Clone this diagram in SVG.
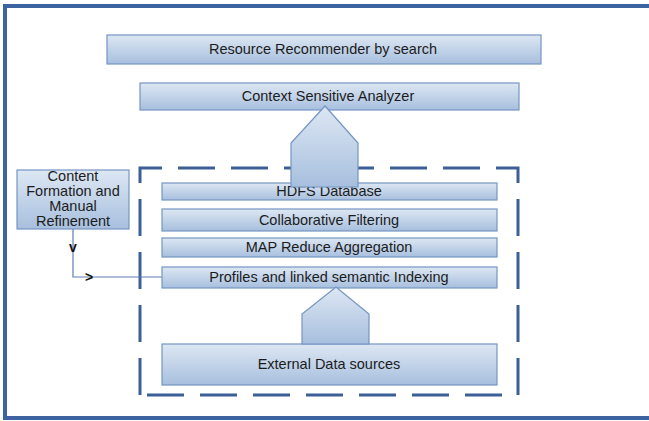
<svg xmlns="http://www.w3.org/2000/svg" width="649" height="421" viewBox="0 0 649 421">
<defs>
<linearGradient id="g" x1="0" y1="0" x2="0" y2="1">
<stop offset="0" stop-color="#DDE7F3"/>
<stop offset="1" stop-color="#A7BFDE"/>
</linearGradient>
<style>
.box{fill:url(#g);stroke:#7594C4;stroke-width:1.2}
.t{font-family:"Liberation Sans",Arial,sans-serif;font-size:14.5px;fill:#1c1c1c;text-anchor:middle}
.frame{fill:none;stroke:#3D63A0;stroke-width:4}
.dash{fill:none;stroke:#3B5F96;stroke-width:3;stroke-dasharray:37 16}
.con{fill:none;stroke:#5F7FB2;stroke-width:1.2}
.ah{font-family:"Liberation Sans",Arial,sans-serif;font-size:14px;font-weight:bold;fill:#111;text-anchor:middle}
</style>
</defs>
<path class="frame" d="M655 6 H5 V418 H655"/>
<path class="dash" d="M140 395 V168 H518 V395 Z"/>
<g id="connectors">
<path class="con" d="M73 229 V277 H162"/>
<text class="ah" x="73" y="252">v</text>
<text class="ah" x="89" y="282">&gt;</text>
</g>
<g id="resource"><rect class="box" x="107" y="35" width="434" height="29"/><text class="t" x="323" y="54">Resource Recommender by search</text></g>
<g id="context"><rect class="box" x="140" y="83" width="379" height="27"/><text class="t" x="328" y="101">Context Sensitive Analyzer</text></g>
<g id="hdfs"><rect class="box" x="162" y="183" width="335" height="17"/><text class="t" x="329" y="196">HDFS Database</text></g>
<g id="collab"><rect class="box" x="162" y="209" width="335" height="22"/><text class="t" x="329" y="225">Collaborative Filtering</text></g>
<g id="mapreduce"><rect class="box" x="162" y="238" width="335" height="19"/><text class="t" x="329" y="252">MAP Reduce Aggregation</text></g>
<g id="profiles"><rect class="box" x="162" y="267" width="335" height="21"/><text class="t" x="329" y="282">Profiles and linked semantic Indexing</text></g>
<g id="external"><rect class="box" x="162" y="344" width="335" height="41"/><text class="t" x="329" y="369">External Data sources</text></g>
<g id="content"><rect class="box" x="17" y="170" width="112" height="59"/>
<text class="t" x="73" y="181">Content</text>
<text class="t" x="73" y="196">Formation and</text>
<text class="t" x="73" y="211">Manual</text>
<text class="t" x="73" y="226">Refinement</text></g>
<g id="arrow-up-big"><path class="box" d="M291 187 V143 L325 106 L358 143 V187 Z"/></g>
<g id="arrow-up-small"><path class="box" d="M302 344 V314 L336 287 L369 314 V344 Z"/></g>
</svg>
